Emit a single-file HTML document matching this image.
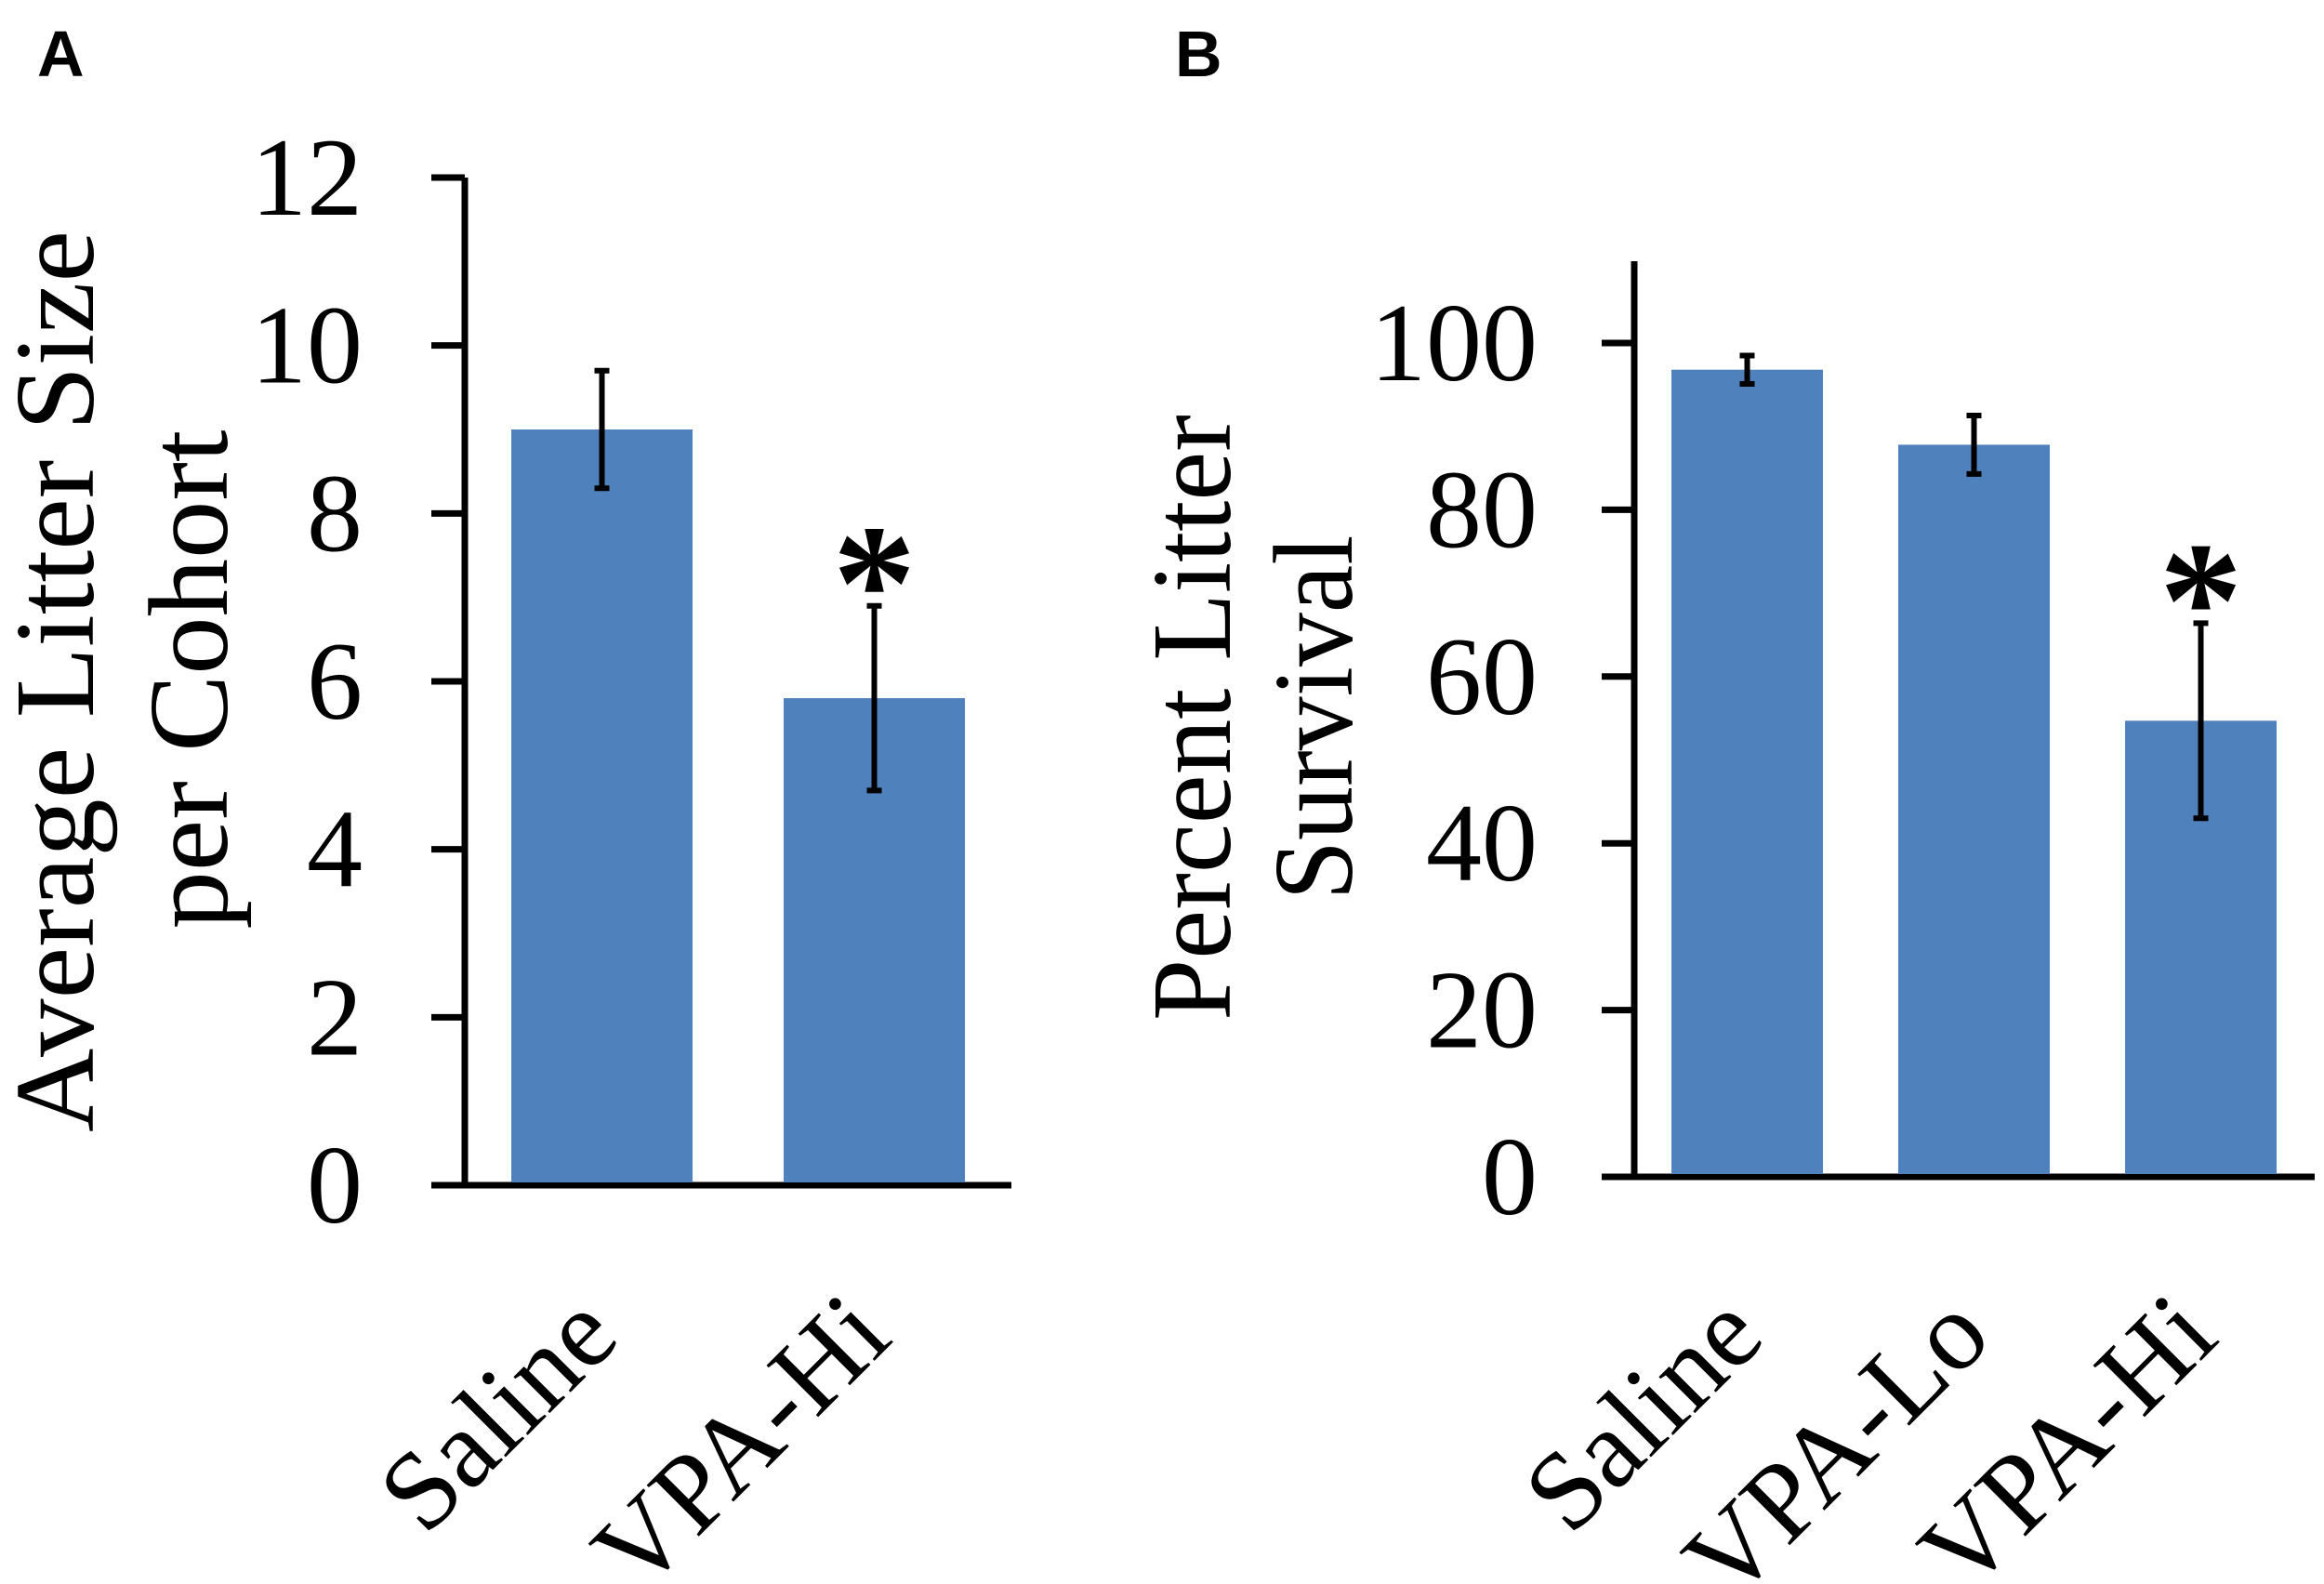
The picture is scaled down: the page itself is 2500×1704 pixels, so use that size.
<!DOCTYPE html>
<html><head><meta charset="utf-8"><style>
html,body{margin:0;padding:0;background:#fff}
svg{display:block}
text{font-family:"Liberation Serif","Times New Roman",serif;fill:#000}
</style></head><body>
<svg id="chart" width="2500" height="1704" viewBox="0 0 2500 1704">
<text x="40" y="82" style="font-family:'Liberation Sans',sans-serif;font-weight:bold;font-size:70px">A</text>
<text x="1264" y="82" style="font-family:'Liberation Sans',sans-serif;font-weight:bold;font-size:70px">B</text>
<text transform="translate(100,733) rotate(-90)" text-anchor="middle" font-size="122" textLength="970" lengthAdjust="spacingAndGlyphs">Average Litter Size</text>
<text transform="translate(244,731) rotate(-90)" text-anchor="middle" font-size="122" textLength="537" lengthAdjust="spacingAndGlyphs">per Cohort</text>
<text transform="translate(1323,772) rotate(-90)" text-anchor="middle" font-size="122" textLength="652" lengthAdjust="spacingAndGlyphs">Percent Litter</text>
<text transform="translate(1454,772) rotate(-90)" text-anchor="middle" font-size="122" textLength="393" lengthAdjust="spacingAndGlyphs">Survival</text>
<g id="pa"></g><g id="pb"></g>
</svg>
<script>
const catsA = ["Saline", "VPA-Hi"];
const valsA = [9.0, 5.8];
const errsA = [0.7, 1.1];
const sigA = [false, true];
const ticksA = [0, 2, 4, 6, 8, 10, 12];

const catsB = ["Saline", "VPA-Lo", "VPA-Hi"];
const valsB = [96.8, 87.8, 54.7];
const errsB = [1.7, 3.5, 11.7];
const sigB = [false, false, true];
const ticksB = [0, 20, 40, 60, 80, 100];

const NS = "http://www.w3.org/2000/svg";
function mk(parent, tag, attrs, txt) {
  const e = document.createElementNS(NS, tag);
  for (const k in attrs) e.setAttribute(k, attrs[k]);
  if (txt !== undefined) e.textContent = txt;
  parent.appendChild(e);
  return e;
}
function panel(g, cfg, cats, vals, errs, sig, ticks, tag) {
  const y = v => cfg.y0 - v * (cfg.y0 - cfg.yTop) / cfg.max;
  const axis = mk(g, "path", {d: `M${cfg.ax} ${cfg.axTop} V${cfg.y0+3} M${cfg.tickL} ${cfg.y0} H${cfg.axEnd}`, stroke: "#000", "stroke-width": 7, fill: "none"});
  
  
  ticks.forEach(t => {
    const tl = mk(g, "line", {x1: cfg.tickL, x2: cfg.ax, y1: y(t), y2: y(t), stroke: "#000", "stroke-width": 7});
    
    
    const lb = mk(g, "text", {x: cfg.labR, y: y(t) + 40, "text-anchor": "end", "font-size": 120}, String(t));
    
    
  });
  cats.forEach((c, i) => {
    const x0 = cfg.bx0 + i * cfg.step, cx = x0 + cfg.bw / 2;
    const r = mk(g, "rect", {x: x0, y: y(vals[i]), width: cfg.bw, height: cfg.y0 - 3 - y(vals[i]), fill: "#4f81bd"});
    
    
    const hi = y(vals[i] + errs[i]), lo = y(vals[i] - errs[i]);
    const eb = mk(g, "path", {d: `M${cx} ${hi} V${lo} M${cx-8} ${hi} H${cx+8} M${cx-8} ${lo} H${cx+8}`, stroke: "#000", "stroke-width": 6, fill: "none"});
    
    
    if (sig[i]) {
      const s = mk(g, "text", {x: cx, y: hi + 36, "text-anchor": "middle", "font-size": 180, "font-weight": "bold"}, "*");
      
      
    }
    const ax = cx + 22, ay = 1442;
    const xl = mk(g, "text", {transform: `translate(${ax},${ay}) rotate(-45)`, "text-anchor": "end", "font-size": 120}, c);
    
    
  });
}
panel(document.getElementById("pa"),
  {ax: 500, axTop: 191, y0: 1275, yTop: 191, max: 12, tickL: 464, axEnd: 1088, labR: 390, bx0: 550, bw: 195, step: 293},
  catsA, valsA, errsA, sigA, ticksA, "a");
panel(document.getElementById("pb"),
  {ax: 1758, axTop: 281, y0: 1266, yTop: 369, max: 100, tickL: 1723, axEnd: 2490, labR: 1654, bx0: 1798, bw: 163, step: 244},
  catsB, valsB, errsB, sigB, ticksB, "b");
</script>
</body></html>
